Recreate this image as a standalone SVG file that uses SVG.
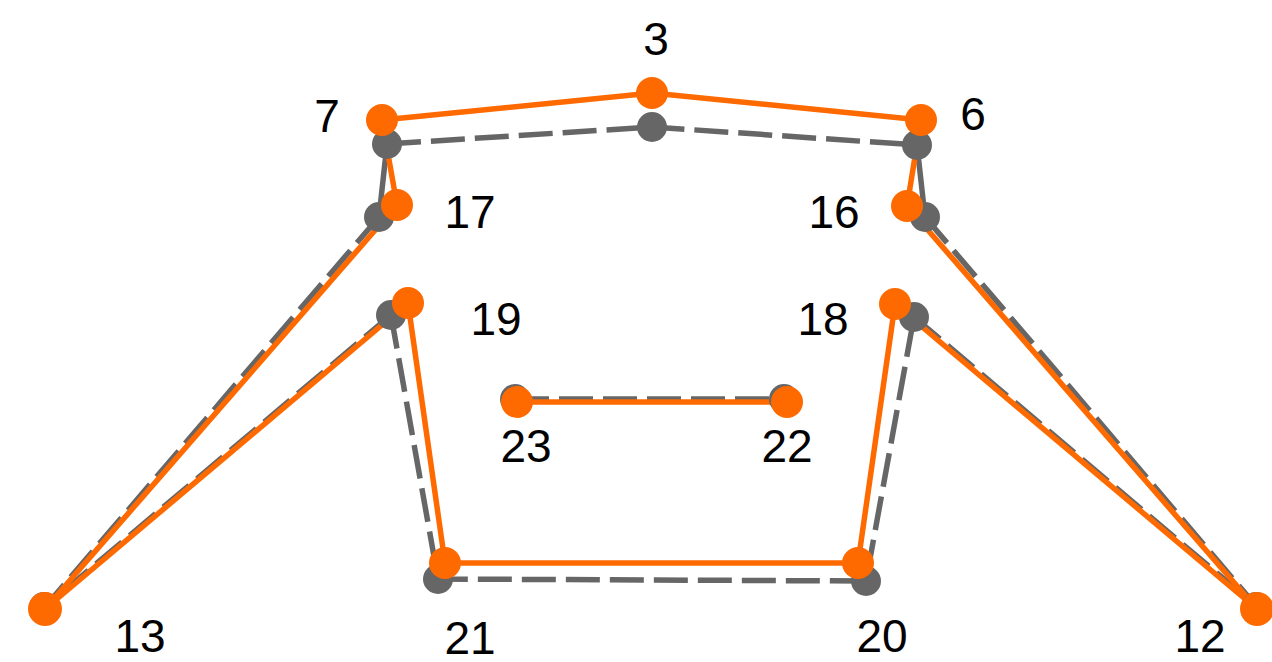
<svg xmlns="http://www.w3.org/2000/svg" width="1272" height="662" viewBox="0 0 1272 662">
<style>
.g{fill:none;stroke:#666666;stroke-width:5.5}
.gd{fill:none;stroke:#666666;stroke-width:5.5;stroke-dasharray:34 10}
.o{fill:none;stroke:#ff6a00;stroke-width:5.5}
.gn{fill:#666666}
.on{fill:#ff6a00}
text{font-family:"Liberation Sans",Arial,sans-serif;font-size:46px;fill:#000;text-anchor:middle}
</style>
<rect width="1272" height="662" fill="#fff"/>
<g id="connectors">
<g id="gray-lines">
<polyline class="gd" points="387,144 652,127 917,145"/>
<line class="g" x1="387" y1="144" x2="379" y2="217"/>
<line class="g" x1="917" y1="145" x2="925" y2="217"/>
<line class="gd" x1="379" y1="217" x2="45" y2="607"/>
<line class="gd" x1="391" y1="315" x2="45" y2="607"/>
<polyline class="gd" points="391,315 438,579 866,581 914,317"/>
<line class="gd" x1="925" y1="217" x2="1257" y2="607"/>
<line class="gd" x1="914" y1="317" x2="1257" y2="607"/>
<line class="gd" x1="515" y1="399" x2="784" y2="399"/>
</g>
<g id="orange-lines">
<polyline class="o" points="382,120 652,93 921,120"/>
<line class="o" x1="382" y1="120" x2="397" y2="205"/>
<line class="o" x1="921" y1="120" x2="907" y2="206"/>
<line class="o" x1="397" y1="205" x2="45" y2="609"/>
<line class="o" x1="408" y1="303" x2="45" y2="609"/>
<polyline class="o" points="408,303 445,563 858,563 895,304"/>
<line class="o" x1="907" y1="206" x2="1257" y2="609"/>
<line class="o" x1="895" y1="304" x2="1257" y2="609"/>
<line class="o" x1="517" y1="402" x2="787" y2="402"/>
</g>
</g>
<g id="gray-nodes">
<circle class="gn" cx="652" cy="127" r="15"/>
<circle class="gn" cx="387" cy="144" r="15"/>
<circle class="gn" cx="917" cy="145" r="15"/>
<circle class="gn" cx="379" cy="217" r="15"/>
<circle class="gn" cx="925" cy="217" r="15"/>
<circle class="gn" cx="391" cy="315" r="15"/>
<circle class="gn" cx="914" cy="317" r="15"/>
<circle class="gn" cx="515" cy="399" r="15"/>
<circle class="gn" cx="784" cy="399" r="15"/>
<circle class="gn" cx="438" cy="579" r="15"/>
<circle class="gn" cx="866" cy="581" r="15"/>
<circle class="gn" cx="44" cy="607" r="15"/>
<circle class="gn" cx="1256" cy="607" r="15"/>
</g>
<g id="node-3"><circle class="on" cx="652" cy="93" r="16"/><text x="656" y="55">3</text></g>
<g id="node-7"><circle class="on" cx="382" cy="120" r="16"/><text x="327" y="132">7</text></g>
<g id="node-6"><circle class="on" cx="921" cy="120" r="16"/><text x="973" y="130">6</text></g>
<g id="node-17"><circle class="on" cx="397" cy="205" r="16"/><text x="470" y="228">17</text></g>
<g id="node-16"><circle class="on" cx="907" cy="206" r="16"/><text x="834" y="228">16</text></g>
<g id="node-19"><circle class="on" cx="408" cy="303" r="16"/><text x="496" y="335">19</text></g>
<g id="node-18"><circle class="on" cx="895" cy="304" r="16"/><text x="823" y="335">18</text></g>
<g id="node-23"><circle class="on" cx="517" cy="402" r="16"/><text x="526" y="462">23</text></g>
<g id="node-22"><circle class="on" cx="787" cy="402" r="16"/><text x="787" y="462">22</text></g>
<g id="node-21"><circle class="on" cx="445" cy="563" r="16"/><text x="470" y="654">21</text></g>
<g id="node-20"><circle class="on" cx="858" cy="563" r="16"/><text x="882" y="652">20</text></g>
<g id="node-13"><circle class="on" cx="45" cy="609" r="17"/><text x="140" y="652">13</text></g>
<g id="node-12"><circle class="on" cx="1257" cy="609" r="17"/><text x="1200" y="652">12</text></g>
</svg>
